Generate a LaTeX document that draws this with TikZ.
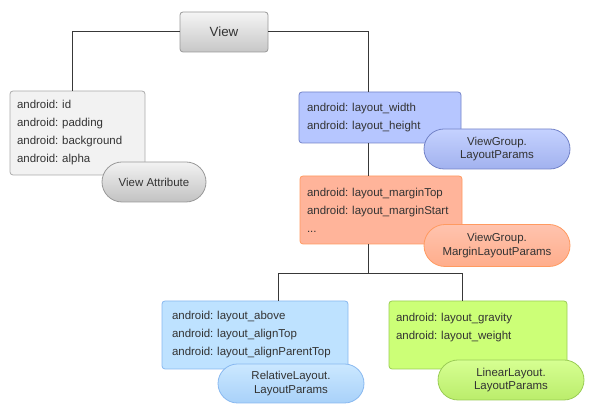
\documentclass[tikz,border=0pt]{standalone}
\usepackage{fontspec}
\setmainfont{Liberation Sans}
\usetikzlibrary{shapes.misc}

\definecolor{txt}{HTML}{333333}
\definecolor{attrfill}{HTML}{F2F2F2}
\definecolor{attrdraw}{HTML}{ABABAB}
\definecolor{groupfill}{HTML}{B6C6FF}
\definecolor{groupdraw}{HTML}{7383C8}
\definecolor{marginfill}{HTML}{FFB49A}
\definecolor{margindraw}{HTML}{FF9A60}
\definecolor{relfill}{HTML}{BEE2FF}
\definecolor{reldraw}{HTML}{88B8F0}
\definecolor{linfill}{HTML}{CCFF77}
\definecolor{lindraw}{HTML}{9ACC55}

\tikzset{every picture/.style={line width=0.75pt}}
\tikzset{
  box/.style={draw, rounded corners=2.25pt, align=left, inner ysep=0pt, text=txt,
    font=\fontsize{8.6}{13.5}\selectfont\frenchspacing, line width=0.6pt},
  pill/.style={rounded rectangle, draw, align=center, text=txt, inner sep=0pt,
    font=\fontsize{8.6}{10}\selectfont, minimum width=109.5pt, minimum height=30pt,
    line width=0.6pt, shading=axis},
  link/.style={draw=black!78, line width=0.75pt}
}

\begin{document}
\begin{tikzpicture}[x=0.75pt,y=0.75pt,yscale=-1,xscale=1]
	\useasboundingbox (0,0) rectangle (590,409);
	
	%Shape: View
	\node[box, align=center, font=\fontsize{10}{12}\selectfont, draw=black!40, shading=axis,
		top color=black!4, bottom color=black!22, minimum width=66pt, minimum height=30pt] (view) at (224,32) {View};
	
	%Shape: attribute boxes
	\node[box, fill=attrfill, draw=attrdraw, inner xsep=5.25pt, text width=90.75pt, minimum height=63pt] (attr) at (77.5,133)
		{android: id\\android: padding\\android: background\\android: alpha};
	\node[box, fill=groupfill, draw=groupdraw, inner xsep=6pt, text width=109.5pt, minimum height=38.25pt] (group) at (380,117.5)
		{android: layout\_width\\android: layout\_height};
	\node[box, fill=marginfill, draw=margindraw, inner xsep=5.25pt, text width=111pt, minimum height=51pt] (margin) at (381,210)
		{android: layout\_marginTop\\android: layout\_marginStart\\...};
	\node[box, fill=relfill, draw=reldraw, inner xsep=7.5pt, text width=124.5pt, minimum height=51pt] (rel) at (255,335)
		{android: layout\_above\\android: layout\_alignTop\\android: layout\_alignParentTop};
	\node[box, fill=linfill, draw=lindraw, inner xsep=5.25pt, text width=123pt, minimum height=51pt] (lin) at (478,335)
		{android: layout\_gravity\\android: layout\_weight\\\mbox{}};
	
	%Shape: class pills
	\node[pill, minimum width=78pt, draw=black!40, top color=black!5, bottom color=black!24] (attrtag) at (154,182) {View Attribute};
	\node[pill, draw=groupdraw, top color=groupfill!80!white, bottom color=groupfill!70!groupdraw] (grouptag) at (497,149) {ViewGroup.\\LayoutParams};
	\node[pill, minimum height=31.5pt, draw=margindraw, top color=marginfill!80!white, bottom color=marginfill!75!margindraw] (margintag) at (497,245.5) {ViewGroup.\\MarginLayoutParams};
	\node[pill, minimum height=29.25pt, draw=reldraw, top color=relfill!80!white, bottom color=relfill!60!reldraw] (reltag) at (291,383.5) {RelativeLayout.\\LayoutParams};
	\node[pill, draw=lindraw, top color=linfill!80!white, bottom color=linfill!65!lindraw] (lintag) at (511,380) {LinearLayout.\\LayoutParams};
	
	%connectors
	\coordinate (trunk) at (368,274);
	\coordinate (relx) at (278,274);
	\coordinate (linx) at (462,274);
	\draw[link] (view.west) -| ([xshift=-3.4pt]attr.north);
	\draw[link] (view.east) -| (group.north -| trunk);
	\draw[link] (group.south -| trunk) -- (margin.north -| trunk);
	\draw[link] (margin.south -| trunk) -- (trunk);
	\draw[link] (rel.north -| relx) -- (relx) -- (linx) -- (lin.north -| linx);
	
\end{tikzpicture}
\end{document}
